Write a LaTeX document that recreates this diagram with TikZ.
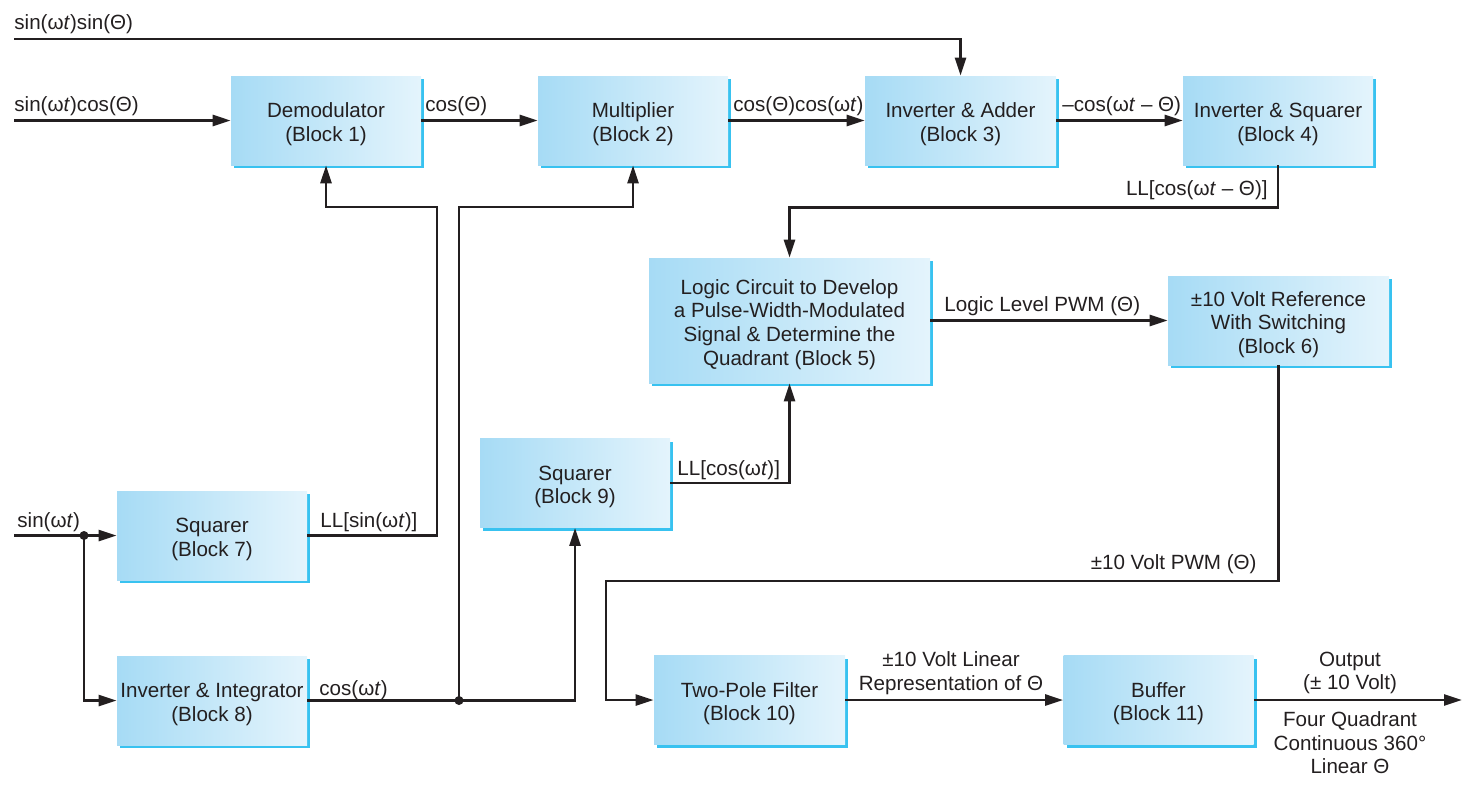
\documentclass[tikz,border=0pt]{standalone}
\usepackage{fontspec}
\setmainfont{Liberation Sans}
\usetikzlibrary{arrows.meta,shadows}
\definecolor{bl}{RGB}{166,219,245}
\definecolor{br}{RGB}{228,244,252}
\definecolor{sh}{RGB}{56,194,240}
\definecolor{ink}{RGB}{35,31,32}
\newcommand{\blkup}{\rule{0pt}{11.3pt}}
\begin{document}
\begin{tikzpicture}[x=0.5pt,y=-0.5pt,
  blk/.style={rectangle, inner sep=0pt, left color=bl, right color=br,
    drop shadow={shadow xshift=1.5pt, shadow yshift=-1.5pt, fill=sh, opacity=1},
    align=center, text=ink, font=\fontsize{10.3}{11.8}\selectfont,
    minimum width=95pt, minimum height=44.5pt},
  lbl/.style={inner sep=0pt, text=ink, font=\fontsize{10.3}{11.8}\selectfont},
  wire/.style={draw=ink, line width=1.3pt},
  arr/.style={wire, -{Triangle[length=9pt,width=5.5pt]}},
  dot/.style={circle, fill=ink, inner sep=0pt, minimum size=4.5pt}
]
\useasboundingbox (0,0) rectangle (1473,788);

% blocks
\node[blk] (b1) at (326,120.5) {\blkup Demodulator\\(Block 1)};
\node[blk] (b2) at (633,120.5) {\blkup Multiplier\\(Block 2)};
\node[blk, minimum width=95.5pt] (b3) at (960.5,120.5) {\blkup Inverter \& Adder\\(Block 3)};
\node[blk] (b4) at (1278,120.5) {\blkup Inverter \& Squarer\\(Block 4)};
\node[blk, minimum width=140.5pt, minimum height=62.5pt] (b5) at (789.5,320.5)
  {\blkup Logic Circuit to Develop\\a Pulse-Width-Modulated\\Signal \& Determine the\\Quadrant (Block 5)};
\node[blk, minimum width=110.5pt] (b6) at (1278.5,320.5) {\blkup ±10 Volt Reference\\With Switching\\(Block 6)};
\node[blk] (b7) at (212,535.5) {\blkup Squarer\\(Block 7)};
\node[blk] (b8) at (212,700.5) {\blkup Inverter \& Integrator\\(Block 8)};
\node[blk] (b9) at (575,483) {\blkup Squarer\\(Block 9)};
\node[blk, minimum width=95.5pt] (b10) at (749.5,700) {\blkup Two-Pole Filter\\(Block 10)};
\node[blk] (b11) at (1158.5,700) {\blkup Buffer\\(Block 11)};

% free ends and junctions
\coordinate (i1) at (14,39);
\coordinate (i2) at (14,120.5);
\coordinate (i3) at (14,535.5);
\coordinate (o1) at (1462,700);
\coordinate (c1) at (437,207);
\coordinate (c2) at (459,207);
\coordinate (c3) at (606,581);
\node[dot] (j2) at (84,535.5) {};
\node[dot] (j1) at (459,700.5) {};

% connectors
\draw[arr] (i1) -| (b3.north);
\draw[arr] (i2) -- (b1.west);
\draw[arr] (b1.east) -- (b2.west);
\draw[arr] (b2.east) -- (b3.west);
\draw[arr] (b3.east) -- (b4.west);
\draw[arr] (b4.south) -- ++(0,42) -| (b5.north);
\draw[arr] (b7.east) -| (c1) -| (b1.south);
\draw[wire] (b8.east) -- (j1.center);
\draw[arr] (j1.center) -- (c2) -| (b2.south);
\draw[arr] (j1.center) -| (b9.south);
\draw[arr] (b9.east) -| (b5.south);
\draw[arr] (b5.east) -- (b6.west);
\draw[arr] (b6.south) |- (c3) |- (b10.west);
\draw[arr] (b10.east) -- (b11.west);
\draw[arr] (b11.east) -- (o1);
\draw[arr] (i3) -- (b7.west);
\draw[arr] (j2.center) |- (b8.west);

% labels
\node[lbl, anchor=base west] (l1) at (14,29) {sin(ω\textit{t})sin(Θ)};
\node[lbl, anchor=base west] (l2) at (14,111) {sin(ω\textit{t})cos(Θ)};
\node[lbl, anchor=base west] (l3) at (425,111) {cos(Θ)};
\node[lbl, anchor=base west] (l4) at (733,111) {cos(Θ)cos(ω\textit{t})};
\node[lbl, anchor=base west] (l5) at (1062,111) {–cos(ω\textit{t} – Θ)};
\node[lbl, anchor=base east] (l6) at (1268,195) {LL[cos(ω\textit{t} – Θ)]};
\node[lbl, anchor=base west] (l7) at (944,311) {Logic Level PWM (Θ)};
\node[lbl, anchor=base west] (l8) at (677,475) {LL[cos(ω\textit{t})]};
\node[lbl, anchor=base west] (l9) at (320,527) {LL[sin(ω\textit{t})]};
\node[lbl, anchor=base west] (l10) at (17,527) {sin(ω\textit{t})};
\node[lbl, anchor=base west] (l11) at (319,695) {cos(ω\textit{t})};
\node[lbl, anchor=base east] (l12) at (1257,569) {±10 Volt PWM (Θ)};
\node[lbl, align=center] (l13) at (951,673) {±10 Volt Linear\\Representation of Θ};
\node[lbl, align=center] (l14) at (1350,673) {Output\\(± 10 Volt)};
\node[lbl, align=center] (l15) at (1350,743) {Four Quadrant\\Continuous 360°\\Linear Θ};
\end{tikzpicture}
\end{document}
